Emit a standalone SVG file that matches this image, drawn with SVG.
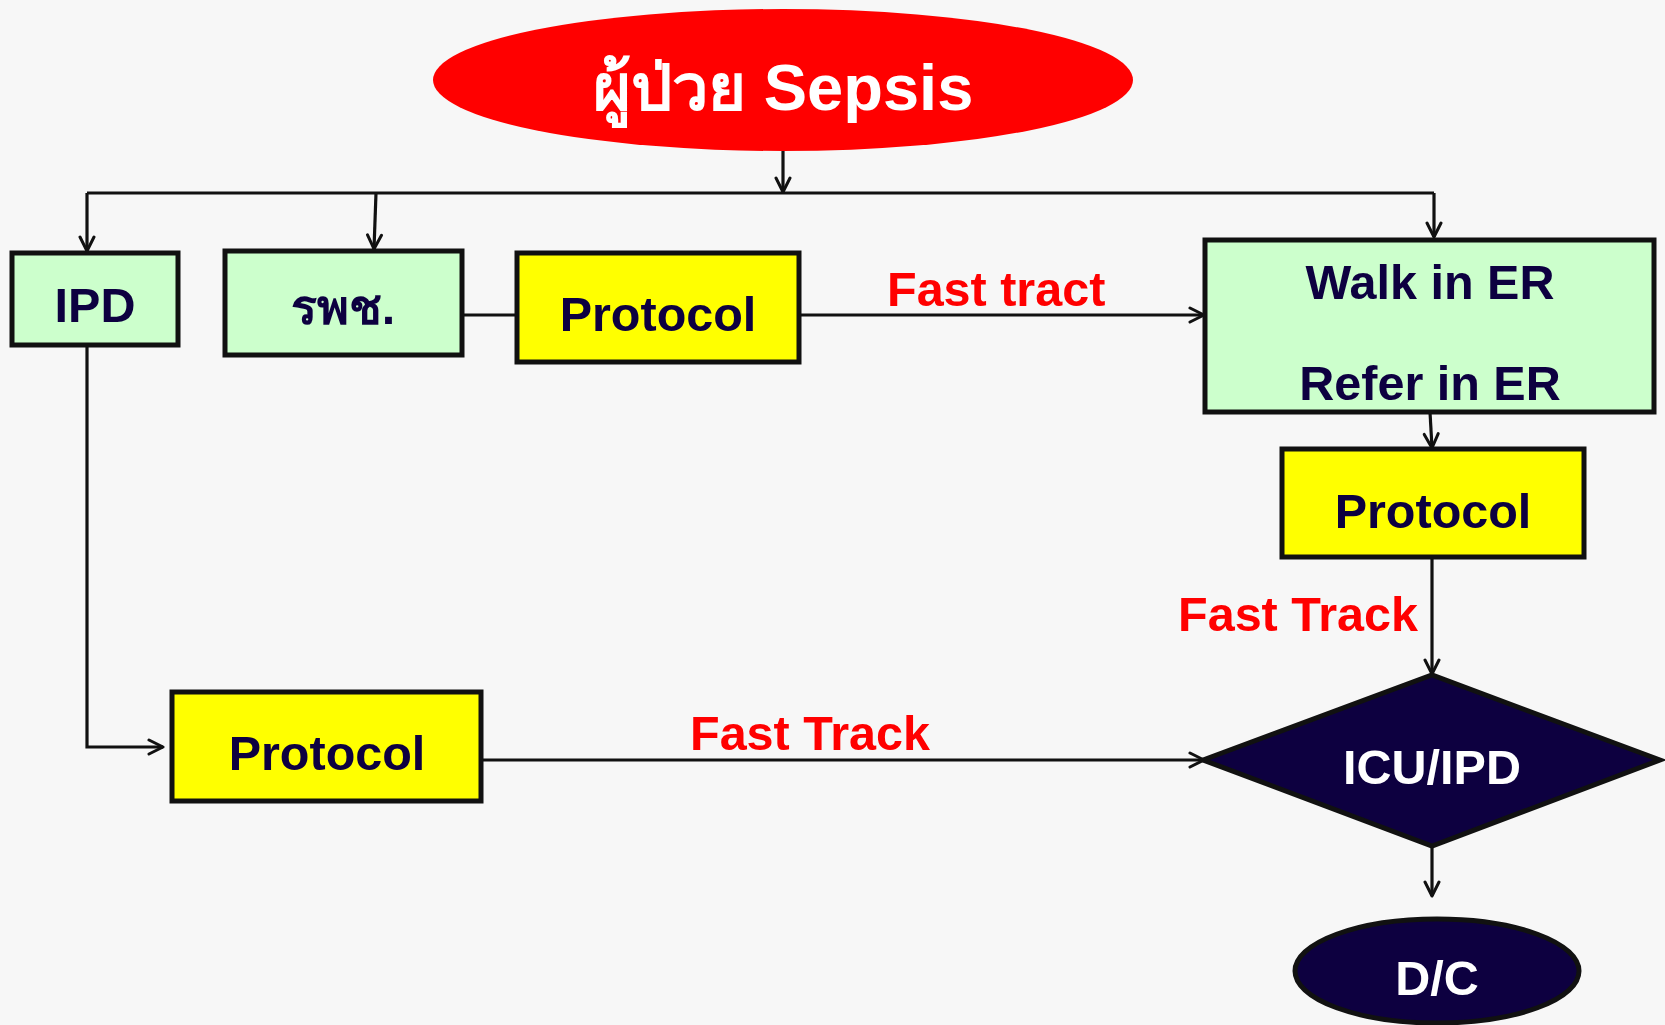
<svg xmlns="http://www.w3.org/2000/svg" width="1665" height="1025" viewBox="0 0 1665 1025">
<defs>
<marker id="arr" viewBox="0 0 20 20" refX="18" refY="10" markerWidth="20" markerHeight="20" markerUnits="userSpaceOnUse" orient="auto">
<polyline points="4,3 18,10 4,17" fill="none" stroke="#111" stroke-width="3" stroke-linecap="round" stroke-linejoin="round"/>
</marker>
<style>
.box{stroke:#111;stroke-width:5;}
.green{fill:#ccffcc;}
.yellow{fill:#ffff00;}
.navy{fill:#0d0040;}
.lbl{font-family:"Liberation Sans","DejaVu Sans",sans-serif;font-weight:bold;font-size:48.5px;fill:#0d0040;text-anchor:middle;}
.wt{fill:#ffffff;}
.red{font-family:"Liberation Sans","DejaVu Sans",sans-serif;font-weight:bold;font-size:48.5px;fill:#ff0000;}
.con{fill:none;stroke:#111;stroke-width:3.2;}
</style>
</defs>
<rect width="1665" height="1025" fill="#f7f7f7"/>

<g id="connectors">
<line class="con" x1="783" y1="145" x2="783" y2="192" marker-end="url(#arr)"/>
<line class="con" x1="87" y1="193" x2="1434" y2="193"/>
<line class="con" x1="87" y1="193" x2="87" y2="251" marker-end="url(#arr)"/>
<line class="con" x1="376" y1="193" x2="374" y2="249" marker-end="url(#arr)"/>
<line class="con" x1="1434" y1="193" x2="1434" y2="237" marker-end="url(#arr)"/>
<line class="con" x1="462" y1="315" x2="517" y2="315"/>
<line class="con" x1="799" y1="315" x2="1204" y2="315" marker-end="url(#arr)"/>
<line class="con" x1="1430" y1="412" x2="1432" y2="448" marker-end="url(#arr)"/>
<line class="con" x1="1432" y1="557" x2="1432" y2="674" marker-end="url(#arr)"/>
<polyline class="con" points="87,345 87,747 163,747" marker-end="url(#arr)"/>
<line class="con" x1="481" y1="760" x2="1204" y2="760" marker-end="url(#arr)"/>
<line class="con" x1="1432" y1="846" x2="1432" y2="896" marker-end="url(#arr)"/>
<text class="red" x="887" y="306">Fast tract</text>
<text class="red" x="1418" y="631" text-anchor="end">Fast Track</text>
<text class="red" x="690" y="750">Fast Track</text>
</g>

<g id="patient">
<ellipse cx="783" cy="80" rx="350" ry="71" fill="#ff0000"/>
<text class="lbl wt" x="783" y="110" style="font-size:65px">ผู้ป่วย Sepsis</text>
</g>

<g id="ipd">
<rect class="box green" x="12" y="253" width="166" height="92"/>
<text class="lbl" x="95" y="322">IPD</text>
</g>

<g id="rpch">
<rect class="box green" x="225" y="251" width="237" height="104"/>
<text class="lbl" x="343" y="324">รพช.</text>
</g>

<g id="protocol1">
<rect class="box yellow" x="517" y="253" width="282" height="109"/>
<text class="lbl" x="658" y="331">Protocol</text>
</g>

<g id="er">
<rect class="box green" x="1205" y="240" width="449" height="172"/>
<text class="lbl" x="1430" y="299">Walk in ER</text>
<text class="lbl" x="1430" y="400">Refer in ER</text>
</g>

<g id="protocol2">
<rect class="box yellow" x="1282" y="449" width="302" height="108"/>
<text class="lbl" x="1433" y="528">Protocol</text>
</g>

<g id="protocol3">
<rect class="box yellow" x="172" y="692" width="309" height="109"/>
<text class="lbl" x="327" y="770">Protocol</text>
</g>

<g id="icu">
<polygon class="box navy" points="1203,760 1432,675 1660,760 1432,846"/>
<text class="lbl wt" x="1432" y="784">ICU/IPD</text>
</g>

<g id="dc">
<ellipse class="box navy" cx="1437" cy="971" rx="142" ry="52"/>
<text class="lbl wt" x="1437" y="995">D/C</text>
</g>
</svg>
